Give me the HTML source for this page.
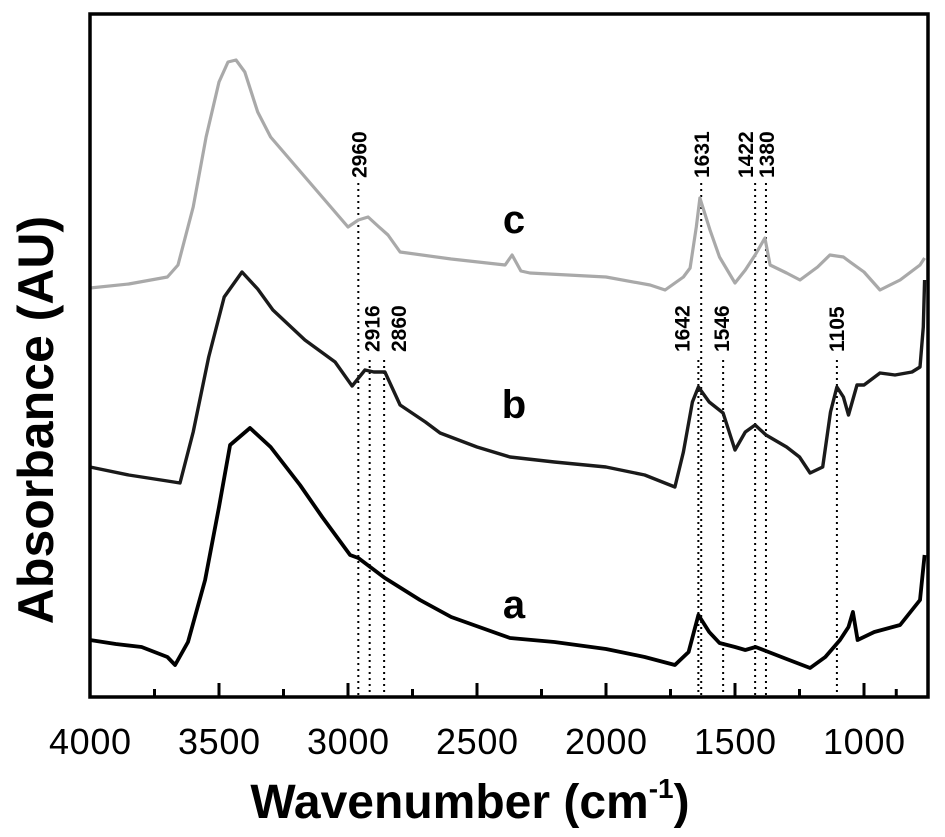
<!DOCTYPE html>
<html><head><meta charset="utf-8"><style>
html,body{margin:0;padding:0;background:#fff;}
svg{display:block;font-family:"Liberation Sans",Arial,sans-serif;}
</style></head><body>
<svg id="chart" width="945" height="837" viewBox="0 0 945 837">
<g id="marks"></g>
<rect x="90" y="14" width="838" height="683" fill="none" stroke="#000" stroke-width="3.5"/>
<g id="axis"></g>
<text x="40" y="420" transform="rotate(-90 40 420)" text-anchor="middle" font-size="50" font-weight="bold" dominant-baseline="middle">Absorbance (AU)</text>
<text x="470" y="818" text-anchor="middle" font-size="48" font-weight="bold">Wavenumber (cm<tspan font-size="28" dy="-20">-1</tspan><tspan dy="20">)</tspan></text>
</svg>
<script>
// Data: wavenumber (cm-1) and absorbance (arbitrary units, offset traces)
const waveA = [4000,3900,3800,3700,3670,3620,3554,3500,3457,3380,3300,3186,3100,2992,2960,2857,2721,2600,2372,2200,2000,1850,1733,1680,1642,1600,1560,1500,1460,1420,1380,1300,1209,1150,1093,1060,1043,1025,960,860,783,765];
const absA = [57,53,50,40,32,55,117,190,252,269,250,212,180,142,139,119,97,80,59,55,48,40,32,45,82,65,54,50,47,50,46,38,29,40,57,70,85,57,65,72,97,142];
const waveB = [4000,3850,3700,3651,3600,3540,3480,3411,3350,3291,3167,3050,2984,2934,2900,2857,2798,2700,2643,2500,2372,2200,2000,1850,1733,1700,1665,1642,1600,1546,1500,1460,1422,1380,1300,1250,1209,1160,1130,1105,1080,1060,1027,1000,938,880,814,783,770,765];
const absB = [230,222,216,214,265,340,400,425,408,387,357,335,311,327,325,325,292,275,264,250,240,235,230,222,210,245,295,310,295,284,247,265,272,262,250,240,224,230,285,310,300,282,312,312,324,322,325,330,370,417];
const waveC = [4000,3850,3700,3659,3600,3550,3500,3465,3434,3400,3350,3300,3200,3100,3000,2960,2922,2880,2845,2798,2600,2391,2364,2330,2295,2000,1829,1771,1700,1674,1650,1636,1597,1560,1500,1460,1422,1384,1364,1300,1248,1180,1132,1080,1054,1000,938,860,783,765];
const absC = [409,413,420,432,490,560,615,635,637,625,585,560,530,500,470,477,480,470,462,445,438,432,442,426,424,420,412,407,420,429,470,499,467,440,414,427,442,459,432,424,417,430,442,440,435,425,407,417,432,439];
const peakLabels = ["2960","2916","2860","1642","1631","1546","1422","1380","1105"];
const peakWaves = [2960,2916,2860,1642,1631,1546,1422,1380,1105];
const peakGroup = ["c","b","b","b","c","b","c","c","b"];
const tickValues = [4000,3500,3000,2500,2000,1500,1000];
const tickLabels = ["4000","3500","3000","2500","2000","1500","1000"];
const minorTicks = [3750,3250,2750,2250,1750,1250,875];

const X0=90, X1=928, Y0=697;
const W_LEFT=4000;
function xs(w){return X0+(W_LEFT-w)*0.258;}
function ys(v){return Y0-v;}
const NS="http://www.w3.org/2000/svg";
const marks=document.getElementById('marks');
const axis=document.getElementById('axis');

function line(xw, av, color, width, name){
  const p=document.createElementNS(NS,'polyline');
  p.setAttribute('points', xw.map((w,i)=>xs(w).toFixed(1)+','+ys(av[i]).toFixed(1)).join(' '));
  p.setAttribute('fill','none');p.setAttribute('stroke',color);p.setAttribute('stroke-width',width);
  p.setAttribute('stroke-linejoin','round');
  
  
  marks.appendChild(p);
}

const offsets = {"2960":8,"2916":10,"2860":22,"1642":-9,"1631":8,"1546":6,"1422":-2,"1380":8,"1105":7};
peakWaves.forEach((w,i)=>{
  const x=xs(w);
  const top = peakGroup[i]==="c"?183:360;
  const l=document.createElementNS(NS,'line');
  l.setAttribute('x1',x);l.setAttribute('x2',x);l.setAttribute('y1',top);l.setAttribute('y2',Y0);
  l.setAttribute('stroke','#000');l.setAttribute('stroke-width','2');l.setAttribute('stroke-dasharray','2 4');
  
  
  marks.appendChild(l);
  const t=document.createElementNS(NS,'text');
  const by = peakGroup[i]==="c"?178:352;
  const tx = x+offsets[peakLabels[i]];
  t.setAttribute('x',tx);t.setAttribute('y',by);
  t.setAttribute('transform','rotate(-90 '+tx+' '+by+')');
  t.setAttribute('font-size','21');t.setAttribute('font-weight','bold');
  t.setAttribute('text-anchor','start');
  t.textContent=peakLabels[i];
  
  
  marks.appendChild(t);
});

line(waveC, absC, '#a9a9a9', 3.2, 'series-c');
line(waveB, absB, '#1a1a1a', 3.4, 'series-b');
line(waveA, absA, '#000', 3.8, 'series-a');

[["c",233],["b",418],["a",618]].forEach(([s,y])=>{
  const t=document.createElementNS(NS,'text');
  t.setAttribute('x',514);t.setAttribute('y',y);t.setAttribute('text-anchor','middle');
  t.setAttribute('font-size','40');t.setAttribute('font-weight','bold');
  t.textContent=s;
  
  
  marks.appendChild(t);
});

tickValues.forEach((w,i)=>{
  const x=xs(w);
  if(w<4000){
    const l=document.createElementNS(NS,'line');
    l.setAttribute('x1',x);l.setAttribute('x2',x);l.setAttribute('y1',Y0);l.setAttribute('y2',Y0-14);
    l.setAttribute('stroke','#000');l.setAttribute('stroke-width','3');
    
    
    axis.appendChild(l);
  }
  const t=document.createElementNS(NS,'text');
  t.setAttribute('x',x);t.setAttribute('y',754);t.setAttribute('text-anchor','middle');
  t.setAttribute('font-size','36');
  t.setAttribute('textLength','82');
  t.textContent=tickLabels[i];
  
  
  axis.appendChild(t);
});
minorTicks.forEach(w=>{
  const x=xs(w);
  const l=document.createElementNS(NS,'line');
  l.setAttribute('x1',x);l.setAttribute('x2',x);l.setAttribute('y1',Y0);l.setAttribute('y2',Y0-8);
  l.setAttribute('stroke','#000');l.setAttribute('stroke-width','3');
  
  
  axis.appendChild(l);
});
</script>
</body></html>
